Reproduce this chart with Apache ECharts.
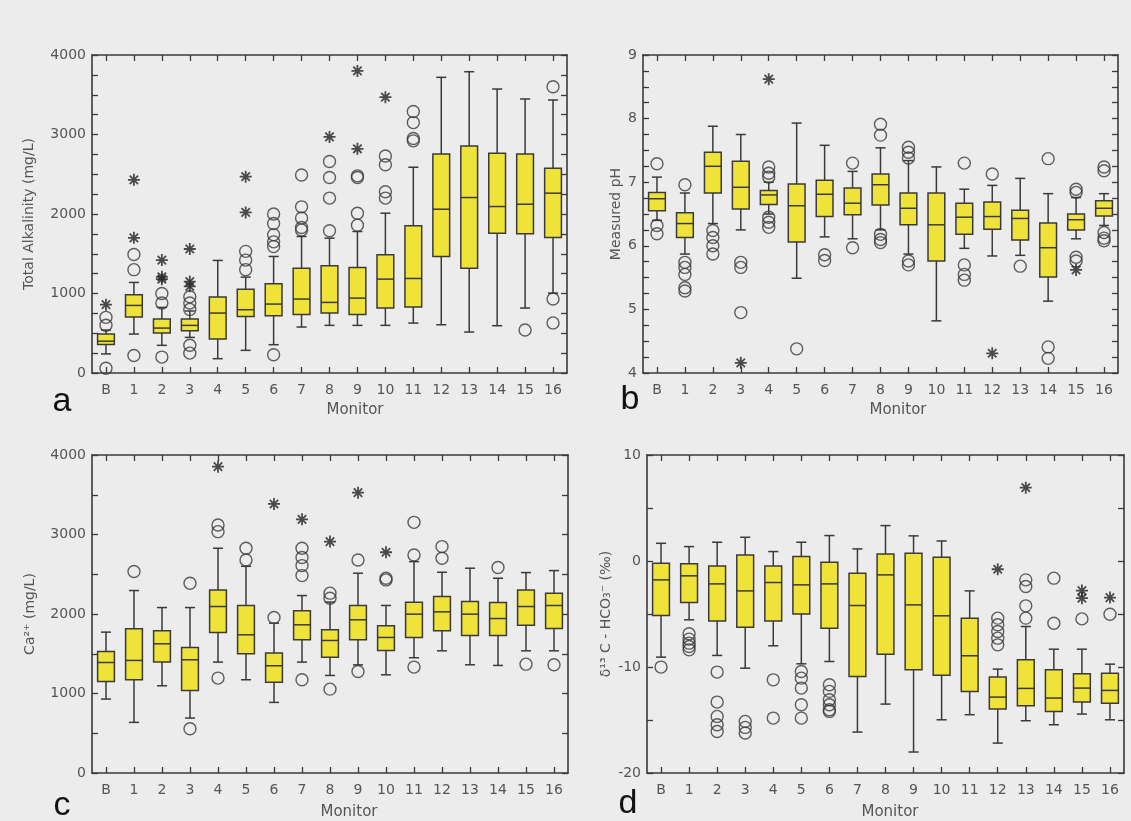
<!DOCTYPE html>
<html>
<head>
<meta charset="utf-8">
<script src="https://cdn.jsdelivr.net/npm/echarts@6/dist/echarts.min.js"></script>
<style>
  html, body { margin: 0; padding: 0; background: #ececec; }
  #chart { width: 1131px; height: 821px; }
</style>
</head>
<body>
<div id="chart"></div>
<script>
// monitors on the x axis
const monitors = ['B', '1', '2', '3', '4', '5', '6', '7', '8', '9', '10', '11', '12', '13', '14', '15', '16'];

// a: total alkalinity (mg/L)  [min, q1, median, q3, max]
const alkBox = [
  [240, 360, 400, 490, 540], [490, 704, 850, 984, 1139], [348, 503, 565, 678, 825],
  [448, 532, 599, 678, 780], [180, 427, 754, 955, 1416], [285, 712, 796, 1055, 1206],
  [356, 720, 867, 1122, 1466], [578, 737, 930, 1319, 1717], [599, 754, 888, 1349, 1696],
  [599, 737, 942, 1328, 1780], [599, 817, 1181, 1487, 2010], [628, 829, 1189, 1851, 2588],
  [607, 1466, 2060, 2756, 3719], [515, 1319, 2207, 2856, 3790], [595, 1759, 2094, 2764, 3572],
  [817, 1751, 2123, 2756, 3447], [1005, 1705, 2262, 2576, 3434]
];
const alkCircles = [
  [600, 700, 60], [1300, 1490, 220], [880, 1000, 200], [250, 350, 800, 880, 960], [],
  [1300, 1420, 1530], [230, 1590, 1650, 1740, 1880, 2000], [1800, 1830, 1950, 2090, 2490],
  [1790, 2200, 2460, 2660], [1860, 2010, 2460, 2480], [2200, 2280, 2620, 2730],
  [2920, 2950, 3150, 3290], [], [], [], [540], [3600, 930, 630]
];
const alkStars = [
  [860], [1700, 2430], [1180, 1210, 1420], [1090, 1150, 1560], [], [2020, 2470], [], [],
  [2970], [2820, 3800], [3470], [], [], [], [], [], []
];

// b: measured pH
const phBox = [
  [6.4, 6.55, 6.74, 6.84, 7.08], [5.87, 6.13, 6.35, 6.52, 6.83], [6.35, 6.83, 7.25, 7.47, 7.88],
  [6.25, 6.58, 6.92, 7.33, 7.75], [6.5, 6.65, 6.8, 6.87, 7.0], [5.49, 6.06, 6.63, 6.97, 7.93],
  [6.14, 6.46, 6.81, 7.03, 7.58], [6.11, 6.49, 6.67, 6.91, 7.17], [6.25, 6.64, 6.96, 7.13, 7.54],
  [5.87, 6.33, 6.59, 6.83, 7.34], [4.82, 5.76, 6.33, 6.83, 7.24], [5.96, 6.18, 6.45, 6.67, 6.89],
  [5.84, 6.26, 6.46, 6.69, 6.95], [5.85, 6.09, 6.43, 6.56, 7.06], [5.13, 5.51, 5.97, 6.36, 6.82],
  [6.11, 6.25, 6.41, 6.5, 6.76], [6.32, 6.47, 6.59, 6.71, 6.82]
];
const phCircles = [
  [7.29, 6.32, 6.19], [6.96, 5.74, 5.66, 5.55, 5.34, 5.29], [6.24, 6.13, 6.0, 5.87],
  [5.74, 5.66, 4.95], [7.24, 7.14, 7.08, 6.45, 6.37, 6.29], [4.38], [5.86, 5.77], [7.3, 5.97],
  [7.91, 7.74, 6.18, 6.1, 6.05], [7.55, 7.47, 7.38, 5.76, 5.7], [], [7.3, 5.7, 5.55, 5.46],
  [7.13], [5.68], [7.37, 4.41, 4.23], [6.89, 6.84, 5.82, 5.76], [7.24, 7.18, 6.21, 6.12, 6.08]
];
const phStars = [[], [], [], [4.16], [8.62], [], [], [], [], [], [], [], [4.31], [], [], [5.62], []];

// c: calcium (mg/L)
const caBox = [
  [930, 1152, 1390, 1529, 1772], [637, 1173, 1416, 1813, 2295], [1097, 1395, 1625, 1788, 2081],
  [691, 1039, 1424, 1579, 2081], [1395, 1767, 2094, 2303, 2827], [1173, 1499, 1738, 2107, 2600],
  [888, 1143, 1349, 1508, 1885], [1395, 1675, 1864, 2040, 2232], [1227, 1457, 1667, 1801, 2150],
  [1360, 1675, 1927, 2107, 2513], [1235, 1541, 1705, 1851, 2107], [1450, 1705, 1998, 2149, 2659],
  [1537, 1788, 2027, 2220, 2525], [1361, 1730, 1998, 2157, 2576], [1353, 1730, 1943, 2144, 2450],
  [1537, 1860, 2094, 2303, 2521], [1537, 1818, 2107, 2261, 2546]
];
const caCircles = [
  [], [2534], [], [2387, 557], [3036, 3120, 1194], [2680, 2827], [1956],
  [2483, 2609, 2710, 2827, 1173], [2199, 2262, 1055], [2680, 1277], [2429, 2450],
  [2743, 3153, 1332], [2701, 2848], [], [2584], [1369], [1361]
];
const caStars = [[], [], [], [], [3853], [], [3384], [3191], [2911], [3526], [2777], [], [], [], [], [], []];

// d: delta 13C of HCO3 (permil)
const dcBox = [
  [-9.07, -5.14, -1.78, -0.21, 1.67], [-5.55, -3.92, -1.4, -0.27, 1.36], [-8.91, -5.65, -2.16, -0.46, 1.77],
  [-10.11, -6.24, -2.82, 0.57, 2.24], [-8.0, -5.65, -2.03, -0.46, 0.89], [-9.7, -4.99, -2.25, 0.42, 1.77],
  [-9.48, -6.34, -2.16, -0.12, 2.4], [-16.14, -10.89, -4.2, -1.15, 1.14], [-13.5, -8.79, -1.31, 0.67, 3.34],
  [-18.02, -10.26, -4.14, 0.73, 2.37], [-14.98, -10.77, -5.17, 0.35, 1.89], [-14.5, -12.3, -8.94, -5.39, -2.82],
  [-17.18, -13.97, -12.84, -10.95, -10.2], [-15.07, -13.66, -12.02, -9.32, -6.18], [-15.45, -14.19, -12.93, -10.26, -8.32],
  [-14.44, -13.31, -11.99, -10.64, -8.32], [-14.98, -13.41, -12.21, -10.58, -9.73]
];
const dcCircles = [
  [-10.01], [-6.87, -7.37, -7.75, -8.06, -8.38], [-10.48, -13.31, -14.66, -15.45, -16.08],
  [-15.13, -15.7, -16.23], [-11.21, -14.82], [-10.42, -11.05, -11.99, -13.56, -14.82],
  [-11.68, -12.3, -13.09, -13.56, -14.03, -14.19], [], [], [], [], [],
  [-5.39, -6.02, -6.65, -7.28, -7.91], [-1.78, -2.41, -4.23, -5.39], [-1.62, -5.87], [-5.46], [-5.02]
];
const dcStars = [[], [], [], [], [], [], [], [], [], [], [], [], [-0.78], [6.92], [], [-2.79, -3.51], [-3.45]];

const INK = '#3a3a3a';
const LABEL = '#555';
const FONT = 'DejaVu Sans';
const STAR = 'path://M5,0L5,10M0,5L10,5M1.5,1.5L8.5,8.5M1.5,8.5L8.5,1.5';

const panels = [
  { grid: { left: 92, top: 55, width: 475, height: 318 }, box: alkBox, circles: alkCircles, stars: alkStars,
    min: 0, max: 4000, interval: 1000, minor: 4, name: 'Total Alkalinity (mg/L)', nameGap: 56 },
  { grid: { left: 643, top: 55, width: 475, height: 318 }, box: phBox, circles: phCircles, stars: phStars,
    min: 4, max: 9, interval: 1, minor: 4, name: 'Measured pH', nameGap: 20 },
  { grid: { left: 92, top: 455, width: 476, height: 318 }, box: caBox, circles: caCircles, stars: caStars,
    min: 0, max: 4000, interval: 1000, minor: 2, name: 'Ca²⁺ (mg/L)', nameGap: 55 },
  { grid: { left: 647, top: 455, width: 477, height: 318 }, box: dcBox, circles: dcCircles, stars: dcStars,
    min: -20, max: 10, interval: 10, minor: 2, name: 'δ¹³ C - HCO₃⁻ (‰)', nameGap: 34 }
];

function renderBox(params, api) {
  const x = api.value(0);
  const lo = api.coord([x, api.value(1)]);
  const q1 = api.coord([x, api.value(2)]);
  const md = api.coord([x, api.value(3)]);
  const q3 = api.coord([x, api.value(4)]);
  const hi = api.coord([x, api.value(5)]);
  const band = api.size([1, 0])[0];
  const bw = band * 0.6;
  const cw = band * 0.36;
  const cx = lo[0];
  const st = { stroke: INK, lineWidth: 1.5 };
  return {
    type: 'group',
    children: [
      { type: 'line', shape: { x1: cx, y1: lo[1], x2: cx, y2: q1[1] }, style: st },
      { type: 'line', shape: { x1: cx, y1: q3[1], x2: cx, y2: hi[1] }, style: st },
      { type: 'line', shape: { x1: cx - cw / 2, y1: lo[1], x2: cx + cw / 2, y2: lo[1] }, style: st },
      { type: 'line', shape: { x1: cx - cw / 2, y1: hi[1], x2: cx + cw / 2, y2: hi[1] }, style: st },
      { type: 'rect', shape: { x: cx - bw / 2, y: q3[1], width: bw, height: q1[1] - q3[1] },
        style: { fill: '#efe33a', stroke: INK, lineWidth: 1.5 } },
      { type: 'line', shape: { x1: cx - bw / 2, y1: md[1], x2: cx + bw / 2, y2: md[1] }, style: st }
    ]
  };
}

function points(lists) {
  const out = [];
  lists.forEach((vals, i) => vals.forEach(v => out.push([i, v])));
  return out;
}

const option = { animation: false, backgroundColor: '#ececec', grid: [], xAxis: [], yAxis: [], series: [] };

panels.forEach((p, i) => {
  option.grid.push(p.grid);
  const tick = { show: true, inside: true, length: 6, lineStyle: { color: INK, width: 1.3 } };
  const line = { show: true, onZero: false, lineStyle: { color: INK, width: 1.6 } };
  option.xAxis.push({
    type: 'category', gridIndex: i, data: monitors, position: 'bottom',
    axisLine: line, axisTick: Object.assign({ alignWithLabel: true }, tick),
    axisLabel: { color: LABEL, fontFamily: FONT, fontSize: 14, margin: 10, interval: 0 },
    splitLine: { show: false }
  });
  option.xAxis.push({
    type: 'category', gridIndex: i, data: monitors, position: 'top',
    axisLine: line, axisTick: Object.assign({ alignWithLabel: true }, tick),
    axisLabel: { show: false }, splitLine: { show: false }
  });
  const yBase = {
    type: 'value', gridIndex: i, min: p.min, max: p.max, interval: p.interval,
    axisLine: line, axisTick: tick,
    minorTick: { show: true, splitNumber: p.minor, length: 6, lineStyle: { color: INK, width: 1.3 } },
    splitLine: { show: false }, minorSplitLine: { show: false }
  };
  option.yAxis.push(Object.assign({}, yBase, {
    position: 'left', name: p.name, nameLocation: 'middle', nameGap: p.nameGap, nameRotate: 90,
    nameTextStyle: { color: LABEL, fontFamily: FONT, fontSize: 14 },
    axisLabel: { color: LABEL, fontFamily: FONT, fontSize: 14, margin: 6, formatter: v => String(v) }
  }));
  option.yAxis.push(Object.assign({}, yBase, { position: 'right', axisLabel: { show: false } }));

  option.series.push({
    type: 'custom', xAxisIndex: 2 * i, yAxisIndex: 2 * i,
    data: p.box.map((b, k) => [k].concat(b)),
    encode: { x: 0, y: [1, 2, 3, 4, 5] },
    renderItem: renderBox, z: 2
  });
  option.series.push({
    type: 'scatter', xAxisIndex: 2 * i, yAxisIndex: 2 * i,
    data: points(p.circles), symbol: 'circle', symbolSize: 12,
    itemStyle: { color: 'rgba(0,0,0,0)', borderColor: INK, borderWidth: 1.4 }, z: 3
  });
  option.series.push({
    type: 'scatter', xAxisIndex: 2 * i, yAxisIndex: 2 * i,
    data: points(p.stars), symbol: STAR, symbolSize: 12,
    itemStyle: { color: 'rgba(0,0,0,0)', borderColor: '#222', borderWidth: 1.8 }, z: 3
  });
});

// "Monitor" captions and panel letters
const monitorPos = [[355, 410], [898, 410], [349, 812], [890, 812]];
const letters = [['a', 62, 402], ['b', 630, 400], ['c', 62, 806], ['d', 628, 804]];
option.graphic = [];
monitorPos.forEach(m => option.graphic.push({
  type: 'text', x: m[0], y: m[1],
  style: { text: 'Monitor', fill: LABEL, font: '15px "DejaVu Sans"', align: 'center', verticalAlign: 'middle' }
}));
letters.forEach(l => option.graphic.push({
  type: 'text', x: l[1], y: l[2],
  style: { text: l[0], fill: '#111', font: '34px "Liberation Sans"', align: 'center', verticalAlign: 'middle' }
}));

const chart = echarts.init(document.getElementById('chart'));
chart.setOption(option);
window.addEventListener('resize', () => chart.resize());
</script>
</body>
</html>
